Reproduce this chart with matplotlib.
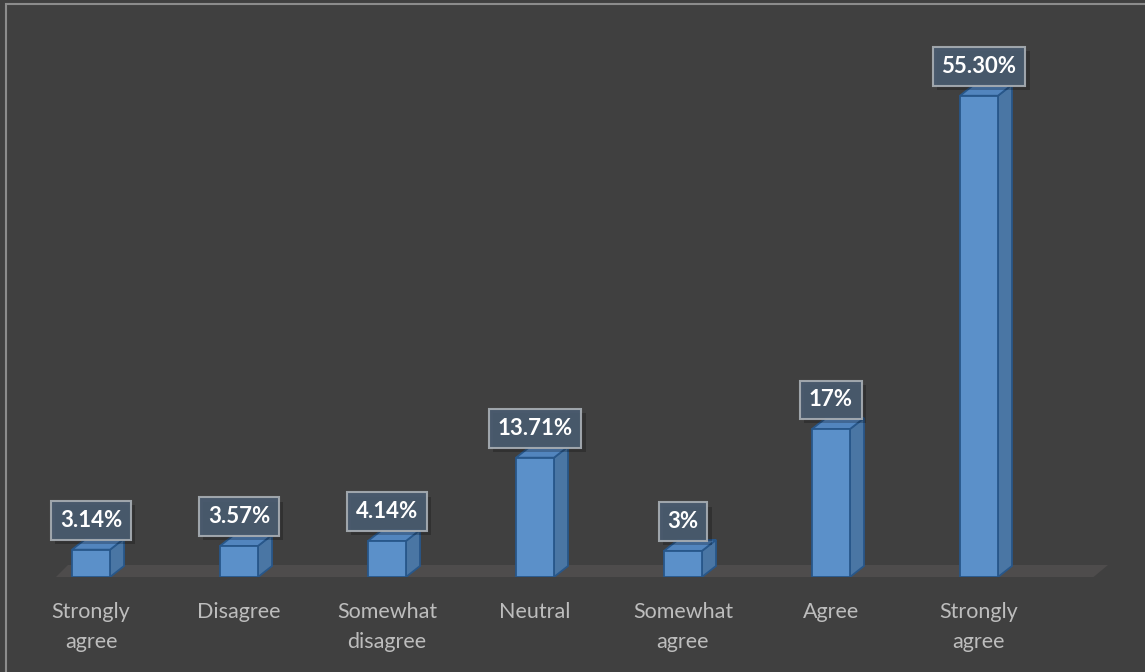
import matplotlib
matplotlib.use("Agg")
import matplotlib.pyplot as plt
import matplotlib.patheffects as pe
from matplotlib.patches import Polygon, Rectangle

plt.rcParams["font.family"] = ["Lato", "DejaVu Sans"]

# survey answers and their share of respondents (%)
categories = ["Strongly\nagree", "Disagree", "Somewhat\ndisagree", "Neutral",
              "Somewhat\nagree", "Agree", "Strongly\nagree"]
values = [3.14, 3.57, 4.14, 13.71, 3, 17, 55.30]
value_labels = ["3.14%", "3.57%", "4.14%", "13.71%", "3%", "17%", "55.30%"]

BG = "#404040"
FRONT = "#5b90c9"
SIDE = "#4a76a4"
TOP = "#5285be"
EDGE = "#28578a"
FLOOR = "#4e4c4c"

W, H, DPI = 1145, 672, 100
fig = plt.figure(figsize=(W / DPI, H / DPI), dpi=DPI, facecolor=BG)

# thin outline of the chart area
fig.add_artist(Rectangle((6 / W, -0.1), 1.2, (H - 4) / H + 0.1, transform=fig.transFigure,
                         fill=False, edgecolor="#8c8c8c", linewidth=1.5))

base_px = 95
ax = fig.add_axes([0, base_px / H, 1, (H - base_px) / H])
ax.set_facecolor(BG)
ax.set_xlim(-0.615, 7.122)
ax.set_ylim(0, 66.3)
ax.axis("off")

# depth of the 3d look, in pixels -> data units
px_x = ax.transData.transform((1, 0))[0] - ax.transData.transform((0, 0))[0]
px_y = ax.transData.transform((0, 1))[1] - ax.transData.transform((0, 0))[1]
dx = 14 / px_x
dy = 11 / px_y
bw = 38 / px_x

n = len(categories)

# floor slab under the columns
f_lo, f_hi = -3 / px_y, 12 / px_y
floor = Polygon([(-0.257, f_lo), (n - 1 + 0.75, f_lo),
                 (n - 1 + 0.75 + 18 / px_x, f_hi), (-0.257 + 15 / px_x, f_hi)],
                closed=True, facecolor=FLOOR, edgecolor="none", zorder=1)
ax.add_patch(floor)

for i, v in enumerate(values):
    x0, x1 = i - bw / 2, i + bw / 2
    side = Polygon([(x1, 0), (x1 + dx, dy), (x1 + dx, v + dy), (x1, v)],
                   closed=True, facecolor=SIDE, edgecolor=EDGE, linewidth=1.3, zorder=2)
    top = Polygon([(x0, v), (x0 + dx, v + dy), (x1 + dx, v + dy), (x1, v)],
                  closed=True, facecolor=TOP, edgecolor=EDGE, linewidth=1.3, zorder=2)
    ax.add_patch(side)
    ax.add_patch(top)

ax.bar(range(n), values, width=bw, color=FRONT, edgecolor=EDGE, linewidth=1.3, zorder=3)

# value boxes sitting on top of each column
for i, (v, lab) in enumerate(zip(values, value_labels)):
    t = ax.annotate(lab, xy=(i, v + dy), xytext=(0, 5.5), textcoords="offset points",
                    ha="center", va="bottom", color="white", fontsize=16, fontweight="bold",
                    zorder=5,
                    bbox=dict(boxstyle="square,pad=0.4", facecolor="#4a5c70", alpha=0.92,
                              edgecolor="#a7adb3", linewidth=1.5))
    t.get_bbox_patch().set_path_effects([
        pe.SimplePatchShadow(offset=(3, -3), shadow_rgbFace="black", alpha=0.22),
        pe.Normal()])

# category names under the floor
for i, c in enumerate(categories):
    ax.annotate(c, xy=(i, 0), xytext=(0, -18), textcoords="offset points",
                ha="center", va="top", color="#bdbdbd", fontsize=15.5, linespacing=1.65)

fig.savefig("out.png", dpi=DPI, facecolor=BG)
